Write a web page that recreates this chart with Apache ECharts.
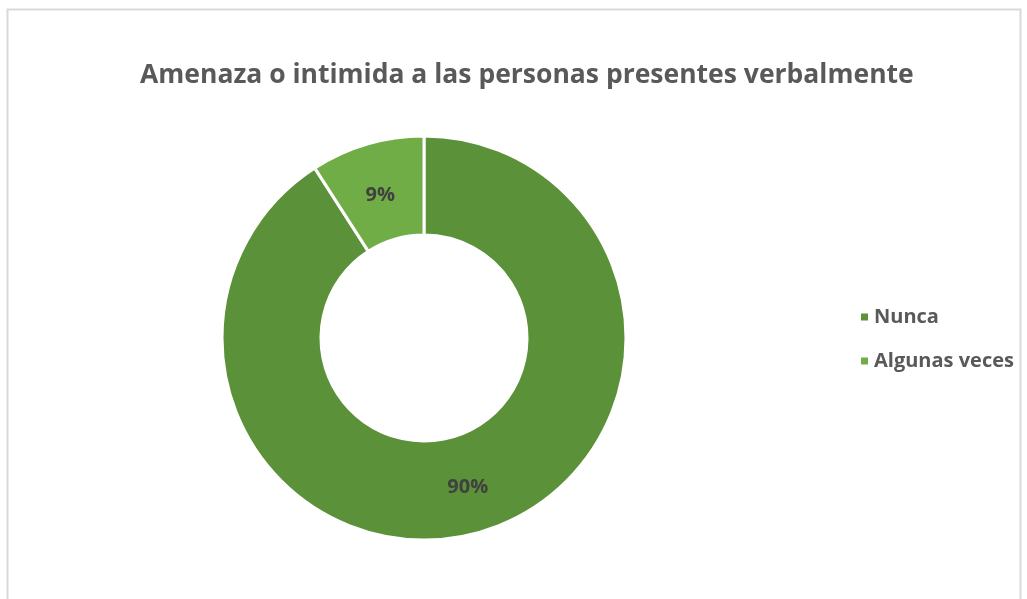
<!DOCTYPE html>
<html>
<head>
<meta charset="utf-8">
<script src="https://cdn.jsdelivr.net/npm/echarts@6/dist/echarts.min.js"></script>
<style>
  html, body {margin: 0; padding: 0; background: #fff;}
  #main {width: 1027px; height: 599px;}
</style>
</head>
<body>
<div id="main"></div>
<script>
function $(id) {return document.getElementById(id)}

var titleText = 'Amenaza o intimida a las personas presentes verbalmente';
var categories = ['Nunca', 'Algunas veces'];
var values = [90, 9];
var colors = ['#5b9138', '#70ad47'];
// small nudge so the small slice label sits like in the original
var labelOffsets = [[0, 0], [0, 6]];

var chart = echarts.init($('main'));
chart.setOption({
  backgroundColor: '#fff',
  animation: false,
  title: {
    text: titleText,
    left: 135,
    top: 57,
    textStyle: {
      color: '#595959',
      fontSize: 26.5,
      fontWeight: 'bold',
      fontFamily: 'Open Sans'
    }
  },
  legend: {
    orient: 'vertical',
    left: 854,
    top: 302,
    itemWidth: 9,
    itemHeight: 9,
    itemGap: 24,
    icon: 'rect',
    data: categories,
    textStyle: {
      color: '#595959',
      fontSize: 20,
      fontWeight: 'bold',
      fontFamily: 'Open Sans'
    }
  },
  graphic: [{
    type: 'rect',
    shape: {x: 7.5, y: 9.5, width: 1013, height: 600},
    style: {fill: 'none', stroke: '#d9d9d9', lineWidth: 2},
    silent: true
  }],
  series: [{
    type: 'pie',
    center: [424, 338],
    radius: [103, 202],
    startAngle: 90,
    clockwise: true,
    itemStyle: {borderColor: '#fff', borderWidth: 3},
    label: {
      show: true,
      position: 'inside',
      formatter: '{c}%',
      color: '#404040',
      fontSize: 20,
      fontWeight: 'bold',
      fontFamily: 'Open Sans'
    },
    labelLine: {show: false},
    data: categories.map(function (name, i) {
      return {
        name: name,
        value: values[i],
        itemStyle: {color: colors[i]},
        label: {offset: labelOffsets[i]}
      };
    })
  }]
});
</script>
</body>
</html>
